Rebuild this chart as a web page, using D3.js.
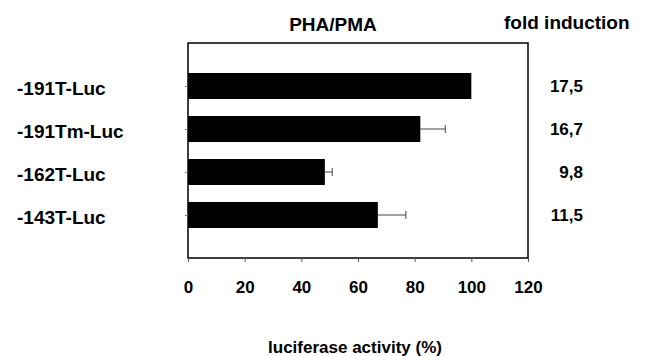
<!DOCTYPE html>
<html>
<head>
<meta charset="utf-8">
<script src="https://cdn.jsdelivr.net/npm/d3@7"></script>
<style>
  body { margin: 0; background: #fff; }
  text { font-family: "Liberation Sans", Arial, sans-serif; font-weight: bold; fill: #000; }
</style>
</head>
<body>
<div id="chart"></div>
<script>
var constructs = ["-191T-Luc", "-191Tm-Luc", "-162T-Luc", "-143T-Luc"];
var activity = [100, 82, 48.3, 67];
var errors = [0, 8.8, 2.6, 9.9];
var foldInduction = ["17,5", "16,7", "9,8", "11,5"];
var xTicks = [0, 20, 40, 60, 80, 100, 120];

var width = 650, height = 356;
var margin = {top: 43, right: 122, bottom: 98, left: 188};

var svg = d3.select("#chart").append("svg")
    .attr("width", width)
    .attr("height", height);

var x = d3.scaleLinear()
    .domain([0, 120])
    .range([margin.left, width - margin.right]);

var y = d3.scalePoint()
    .domain(constructs)
    .range([margin.top, height - margin.bottom])
    .padding(1);

var barH = 26;

// frame
svg.append("rect")
    .attr("x", x(0)).attr("y", margin.top)
    .attr("width", x(120) - x(0))
    .attr("height", height - margin.bottom - margin.top)
    .attr("fill", "none")
    .attr("stroke", "#000")
    .attr("stroke-width", 1.5);

// x axis ticks
var xAxis = svg.append("g")
    .attr("transform", "translate(0," + (height - margin.bottom) + ")")
    .call(d3.axisBottom(x).tickValues(xTicks).tickSize(4).tickPadding(19));
xAxis.select(".domain").remove();
xAxis.selectAll("line").attr("stroke", "#555");
xAxis.selectAll("text").style("font-size", "17px").style("font-family", "Liberation Sans, Arial, sans-serif").style("font-weight", "bold");

// y ticks
var yAxis = svg.append("g")
    .attr("transform", "translate(" + x(0) + ",0)")
    .call(d3.axisLeft(y).tickSize(3).tickFormat(""));
yAxis.select(".domain").remove();
yAxis.selectAll("line").attr("stroke", "#777");

// bars
svg.selectAll(".bar")
    .data(constructs)
    .enter().append("rect")
    .attr("class", "bar")
    .attr("x", x(0))
    .attr("y", function(d){ return y(d) - barH / 2; })
    .attr("width", function(d, i){ return x(activity[i]) - x(0); })
    .attr("height", barH)
    .attr("fill", "#000");

// error bars
var eb = svg.selectAll(".err")
    .data(constructs.filter(function(d, i){ return errors[i] > 0; }))
    .enter().append("g")
    .attr("class", "err");
eb.append("line")
    .attr("x1", function(d){ return x(activity[constructs.indexOf(d)]); })
    .attr("x2", function(d){ var i = constructs.indexOf(d); return x(activity[i] + errors[i]); })
    .attr("y1", function(d){ return y(d); })
    .attr("y2", function(d){ return y(d); })
    .attr("stroke", "#444").attr("stroke-width", 1);
eb.append("line")
    .attr("x1", function(d){ var i = constructs.indexOf(d); return x(activity[i] + errors[i]); })
    .attr("x2", function(d){ var i = constructs.indexOf(d); return x(activity[i] + errors[i]); })
    .attr("y1", function(d){ return y(d) - 4; })
    .attr("y2", function(d){ return y(d) + 4; })
    .attr("stroke", "#444").attr("stroke-width", 1);

// category labels
svg.selectAll(".cat")
    .data(constructs)
    .enter().append("text")
    .attr("class", "cat")
    .attr("x", 17)
    .attr("y", function(d){ return y(d) + 9; })
    .style("font-size", "19px")
    .text(function(d){ return d; });

// fold induction values
svg.selectAll(".fold")
    .data(constructs)
    .enter().append("text")
    .attr("class", "fold")
    .attr("x", 583)
    .attr("y", function(d){ return y(d) + 6; })
    .attr("text-anchor", "end")
    .style("font-size", "17px")
    .text(function(d, i){ return foldInduction[i]; });

svg.append("text")
    .attr("x", 333).attr("y", 31)
    .attr("text-anchor", "middle")
    .style("font-size", "19px")
    .text("PHA/PMA");

svg.append("text")
    .attr("x", 504).attr("y", 29)
    .style("font-size", "19px")
    .text("fold induction");

svg.append("text")
    .attr("x", 355).attr("y", 353)
    .attr("text-anchor", "middle")
    .style("font-size", "17px")
    .text("luciferase activity (%)");
</script>
</body>
</html>
